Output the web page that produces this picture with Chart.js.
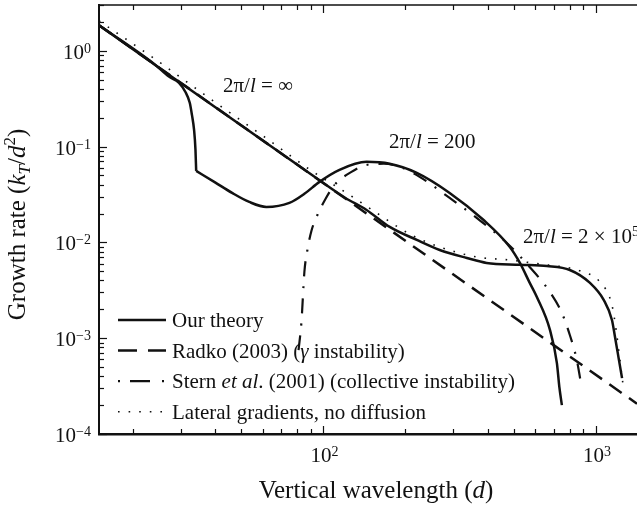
<!DOCTYPE html>
<html>
<head>
<meta charset="utf-8">
<script src="https://cdn.jsdelivr.net/npm/chart.js@4.4.0/dist/chart.umd.min.js"></script>
<style>
  html, body { margin: 0; padding: 0; background: #fff; }
  #wrap { width: 637px; height: 506px; }
</style>
</head>
<body>
<div id="wrap"><canvas id="growthChart" width="637" height="506"></canvas></div>
<script>
// values: d = vertical wavelength, g = growth rate (k_T/d^2)
const xTickValues = [100, 1000];
const yTickValues = [1, 0.1, 0.01, 0.001, 0.0001];

// Our theory, 2pi/l = 200: branch down to the sharp corner near d = 34 ...
const theory200TopD = [15, 24.1, 27, 29.5, 31.1, 32.3, 32.9, 33.5, 33.9, 34.1];
const theory200TopG = [1.84, 0.714, 0.54, 0.463, 0.373, 0.286, 0.214, 0.149, 0.0924, 0.0557];
// ... and from the corner onwards
const theory200D = [34.1, 40, 46.2, 53.4, 61.7, 75, 85.1, 96.7, 114.5, 143.9, 175, 220, 290.5, 387, 483, 526, 571, 607, 678, 719, 734, 750];
const theory200G = [0.0557, 0.0423, 0.0328, 0.0264, 0.0234, 0.0258, 0.0321, 0.0428, 0.0571, 0.0692, 0.066, 0.0531, 0.0328, 0.0171, 0.00895, 0.0061, 0.0038, 0.00269, 0.00122, 0.00055, 0.00031, 0.0002];

// Our theory, 2pi/l = 2 x 10^5 (follows the 2pi/l = infinity line at small d)
const theory2e5D = [15, 96.7, 120, 143.9, 175, 220, 267, 336, 397, 526, 661, 802, 951, 1069, 1145, 1175, 1215, 1247];
const theory2e5G = [1.84, 0.0444, 0.0292, 0.0218, 0.0145, 0.0106, 0.00833, 0.00687, 0.0061, 0.00584, 0.00566, 0.00515, 0.00377, 0.0025, 0.00155, 0.00103, 0.00059, 0.000383];

// Radko (2003), gamma instability
const radkoD = [15, 1415];
const radkoG = [1.844, 0.000207];

// Stern et al. (2001), collective instability
const sternD = [81, 83, 85.1, 87.3, 90.3, 95, 101.7, 109.8, 126.7, 143.9, 166.2, 190.3, 225.4, 290.5, 365, 471, 571, 678, 750, 802, 851, 881];
const sternG = [0.00075, 0.00147, 0.00491, 0.00833, 0.01316, 0.0193, 0.0284, 0.0398, 0.0544, 0.0644, 0.0661, 0.0614, 0.0482, 0.0291, 0.018, 0.00986, 0.00553, 0.00303, 0.00183, 0.00108, 0.00059, 0.00034];

// Lateral gradients, no diffusion
const lateralD = [15, 23.7, 40, 60, 90.3, 124.6, 156.6, 210.6, 273.8, 365, 483, 623, 800, 873, 1034, 1145, 1186, 1225, 1257];
const lateralG = [2.05, 0.845, 0.29, 0.129, 0.056, 0.0313, 0.0203, 0.0119, 0.00875, 0.00703, 0.00654, 0.00594, 0.0054, 0.00505, 0.00386, 0.00222, 0.00122, 0.00059, 0.00033];

const FONT = '"Liberation Serif", "Times New Roman", serif';
const INK = '#111';

function toPoints(ds, gs) {
    return ds.map((d, i) => ({ x: d, y: gs[i] }));
}

function fontFor(p, size) {
    return (p.it ? 'italic ' : '') + (p.s || size) + 'px ' + FONT;
}

// draws a line of text made of parts, some italic / raised / lowered
function drawRich(ctx, parts, x, y, size, align) {
    let w = 0;
    parts.forEach(p => { ctx.font = fontFor(p, size); w += ctx.measureText(p.t).width; });
    let cx = align === 'center' ? x - w / 2 : (align === 'right' ? x - w : x);
    ctx.textAlign = 'left';
    ctx.textBaseline = 'alphabetic';
    parts.forEach(p => {
        ctx.font = fontFor(p, size);
        ctx.fillText(p.t, cx, y + (p.dy || 0));
        cx += ctx.measureText(p.t).width;
    });
}

function expLabel(v) {
    const e = Math.round(Math.log10(v));
    return [{ t: '10' }, { t: String(e).replace('-', '\u2212'), s: 14, dy: -6 }];
}

const legendRows = [
    { dash: [], width: 2.5, parts: [{ t: 'Our theory' }] },
    { dash: [19, 11], width: 2.5, parts: [{ t: 'Radko (2003) (' }, { t: '\u03B3', it: true }, { t: ' instability)' }] },
    { dash: [2, 10, 20, 12, 2, 10], width: 2.2, parts: [{ t: 'Stern ' }, { t: 'et al', it: true }, { t: '. (2001) (collective instability)' }] },
    { dash: [1.6, 9], width: 1.6, parts: [{ t: 'Lateral gradients, no diffusion' }] }
];

const decorations = {
    id: 'decorations',
    afterDatasetsDraw(chart) {
        const ctx = chart.ctx;
        const ca = chart.chartArea;
        const xs = chart.scales.x;
        const ys = chart.scales.y;
        ctx.save();
        ctx.strokeStyle = INK;
        ctx.fillStyle = INK;

        // top frame line
        ctx.lineWidth = 1.6;
        ctx.beginPath();
        ctx.moveTo(ca.left, ca.top);
        ctx.lineTo(ca.right, ca.top);
        ctx.stroke();

        // inward tick marks
        ctx.lineWidth = 1.2;
        for (let e = 1; e <= 3; e++) {
            for (let k = 1; k <= 9; k++) {
                const v = k * Math.pow(10, e);
                if (v < xs.min || v > xs.max) continue;
                const px = Math.round(xs.getPixelForValue(v)) + 0.5;
                const len = k === 1 ? 8 : 5;
                ctx.beginPath();
                ctx.moveTo(px, ca.bottom);
                ctx.lineTo(px, ca.bottom - len);
                ctx.moveTo(px, ca.top);
                ctx.lineTo(px, ca.top + len);
                ctx.stroke();
            }
        }
        for (let e = -4; e <= 0; e++) {
            for (let k = 1; k <= 9; k++) {
                const v = k * Math.pow(10, e);
                if (v < ys.min || v > ys.max) continue;
                const py = Math.round(ys.getPixelForValue(v)) + 0.5;
                const len = k === 1 ? 8 : 5;
                ctx.beginPath();
                ctx.moveTo(ca.left, py);
                ctx.lineTo(ca.left + len, py);
                ctx.stroke();
            }
        }

        // tick labels
        yTickValues.forEach(v => {
            drawRich(ctx, expLabel(v), ca.left - 8, ys.getPixelForValue(v) + 8, 21, 'right');
        });
        xTickValues.forEach(v => {
            drawRich(ctx, expLabel(v), xs.getPixelForValue(v) + 1, ca.bottom + 28, 21, 'center');
        });

        // axis titles
        drawRich(ctx, [{ t: 'Vertical wavelength (' }, { t: 'd', it: true }, { t: ')' }], 376, 498, 25, 'center');
        ctx.save();
        ctx.translate(25, (ca.top + ca.bottom) / 2 + 5);
        ctx.rotate(-Math.PI / 2);
        drawRich(ctx, [
            { t: 'Growth rate (' }, { t: 'k', it: true }, { t: 'T', it: true, s: 17, dy: 5 },
            { t: '/' }, { t: 'd', it: true }, { t: '2', s: 17, dy: -10 }, { t: ')' }
        ], 0, 0, 25, 'center');
        ctx.restore();

        // curve annotations
        const lbl = [{ t: '2\u03C0/' }, { t: 'l', it: true }];
        drawRich(ctx, lbl.concat([{ t: ' = \u221E' }]), 223, 92, 21, 'left');
        drawRich(ctx, lbl.concat([{ t: ' = 200' }]), 389, 148, 21, 'left');
        drawRich(ctx, lbl.concat([{ t: ' = 2 \u00D7 10' }, { t: '5', s: 14, dy: -7 }]), 523, 243, 21, 'left');

        // legend in the lower left of the plot
        legendRows.forEach((row, i) => {
            const y = ca.bottom - 114 + i * 30.6;
            ctx.lineWidth = row.width;
            ctx.lineCap = 'butt';
            ctx.setLineDash(row.dash);
            ctx.beginPath();
            ctx.moveTo(ca.left + 19, y);
            ctx.lineTo(ca.left + 67, y);
            ctx.stroke();
            ctx.setLineDash([]);
            drawRich(ctx, row.parts, ca.left + 73, y + 7, 21, 'left');
        });
        ctx.restore();
    }
};

const lineBase = {
    borderColor: INK,
    backgroundColor: INK,
    fill: false,
    pointRadius: 0,
    cubicInterpolationMode: 'monotone',
    borderCapStyle: 'butt',
    borderJoinStyle: 'miter'
};

new Chart(document.getElementById('growthChart'), {
    type: 'line',
    data: {
        datasets: [
            Object.assign({}, lineBase, { label: 'Our theory (200, upper)', data: toPoints(theory200TopD, theory200TopG), borderWidth: 2.5 }),
            Object.assign({}, lineBase, { label: 'Our theory (200)', data: toPoints(theory200D, theory200G), borderWidth: 2.5 }),
            Object.assign({}, lineBase, { label: 'Our theory (2e5)', data: toPoints(theory2e5D, theory2e5G), borderWidth: 2.5 }),
            Object.assign({}, lineBase, { label: 'Radko (2003)', data: toPoints(radkoD, radkoG), borderWidth: 2.5, borderDash: [15, 9] }),
            Object.assign({}, lineBase, { label: 'Stern et al. (2001)', data: toPoints(sternD, sternG), borderWidth: 2.2, borderDash: [15, 10, 2, 10] }),
            Object.assign({}, lineBase, { label: 'Lateral gradients', data: toPoints(lateralD, lateralG), borderWidth: 1.6, borderDash: [1.6, 9] })
        ]
    },
    options: {
        responsive: false,
        animation: false,
        devicePixelRatio: 1,
        layout: { padding: { top: 5, right: 0, left: 0, bottom: 0 } },
        plugins: { legend: { display: false }, tooltip: { enabled: false } },
        scales: {
            x: {
                type: 'logarithmic',
                min: 15,
                max: 1415,
                grid: { display: false },
                border: { display: true, color: INK, width: 2.5 },
                ticks: { display: false },
                afterFit: scale => { scale.height = 72; }
            },
            y: {
                type: 'logarithmic',
                min: 0.0001,
                max: 3,
                grid: { display: false },
                border: { display: true, color: INK, width: 2 },
                ticks: { display: false },
                afterFit: scale => { scale.width = 99; }
            }
        }
    },
    plugins: [decorations]
});
</script>
</body>
</html>
